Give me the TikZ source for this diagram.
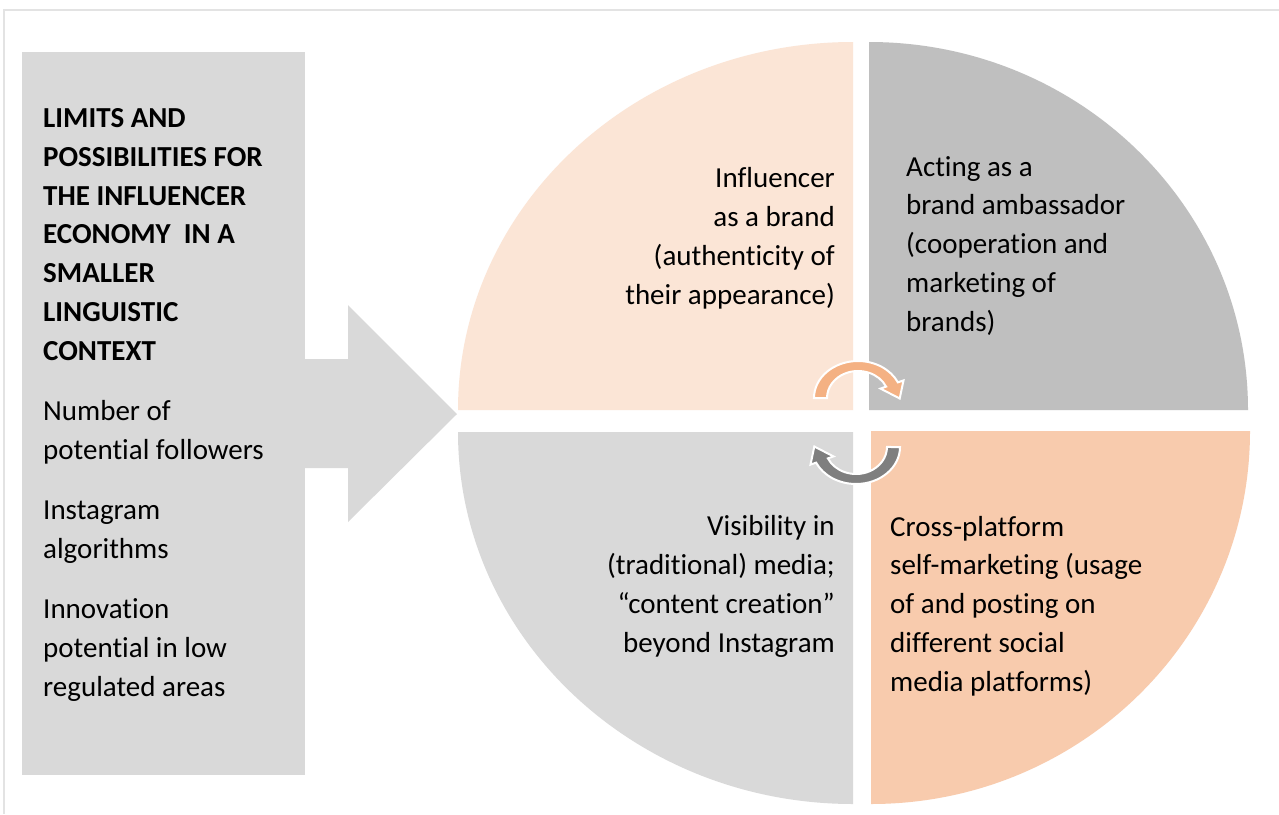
\documentclass[tikz,border=0pt]{standalone}
\usepackage{fontspec}
\setmainfont{Carlito}[Ligatures=NoCommon]
\definecolor{boxgray}{HTML}{D9D9D9}
\definecolor{peachlight}{HTML}{FBE5D6}
\definecolor{midgray}{HTML}{BFBFBF}
\definecolor{peach}{HTML}{F8CBAD}
\definecolor{orangearrow}{HTML}{F4B183}
\definecolor{darkarrow}{HTML}{7F7F7F}
\definecolor{framegray}{HTML}{E3E3E3}
\tikzset{
  bodytext/.style={font=\fontsize{29}{38.7}\selectfont, inner sep=0pt, text=black},
  cyclearrow/.style={draw=white, line width=2pt, line join=miter},
}
% curved arrow around a local origin: outer arc, arrow head, inner arc back
\newcommand{\cyclearrowpath}{%
  (-44,0) arc[start angle=180, end angle=335, x radius=44, y radius=37]
  -- (45.5,-17.6) -- (41.7,0.5) -- (22.5,-9.4) -- (28.1,-11.4)
  arc[start angle=335, end angle=180, x radius=31, y radius=27] -- cycle}
\begin{document}
\begin{tikzpicture}[x=1pt, y=-1pt]
\useasboundingbox (0,0) rectangle (1279,814);
\fill[white] (0,0) rectangle (1279,814);
% outer frame (top and left edges)
\draw[framegray, line width=2pt] (4,814) -- (4,10) -- (1279,10);

% left panel and the big arrow
\fill[boxgray] (300,359) -- (348,359) -- (348,305) -- (457,414) -- (348,522) -- (348,468) -- (300,468) -- cycle;
\node[fill=boxgray, minimum width=283pt, minimum height=723pt, inner sep=0pt, anchor=north west] (panel) at (22,52) {};

% multi-line texts are anchored at the baseline of their last line
\node[bodytext, anchor=base west, align=left, font=\fontsize{29}{38.7}\selectfont\bfseries] (title) at (43,360)
  {LIMITS AND\\POSSIBILITIES FOR\\THE INFLUENCER\\ECONOMY\ \ IN A\\SMALLER\\LINGUISTIC\\CONTEXT};
\node[bodytext, anchor=base west, align=left] (item1) at (43,459) {Number of\\potential followers};
\node[bodytext, anchor=base west, align=left] (item2) at (43,558) {Instagram\\algorithms};
\node[bodytext, anchor=base west, align=left] (item3) at (43,696) {Innovation\\potential in low\\regulated areas};

% four quarter-ellipse segments
\fill[peachlight] (853,410) -- (458,410) arc[start angle=180, end angle=270, x radius=395, y radius=368] -- cycle;
\fill[midgray] (869,410) -- (869,42) arc[start angle=270, end angle=360, x radius=379, y radius=368] -- cycle;
\fill[boxgray] (853,432) -- (853,804) arc[start angle=90, end angle=180, x radius=395, y radius=372] -- cycle;
\fill[peach] (871,431) -- (1250,431) arc[start angle=0, end angle=90, x radius=379, y radius=373] -- cycle;

% segment texts
\node[bodytext, anchor=base east, align=right] (tl) at (835,304)
  {Influencer\\as a brand\\(authenticity of\\their appearance)};
\node[bodytext, anchor=base west, align=left] (tr) at (906,331)
  {Acting as a\\brand ambassador\\(cooperation and\\marketing of\\brands)};
\node[bodytext, anchor=base east, align=right] (bl) at (835,652)
  {Visibility in\\(traditional) media;\\“content creation”\\beyond Instagram};
\node[bodytext, anchor=base west, align=left] (br) at (890,691)
  {Cross-platform\\self-marketing (usage\\of and posting on\\different social\\media platforms)};

% circular arrows in the middle
\begin{scope}[shift={(858,398)}]
  \filldraw[cyclearrow, fill=orangearrow] \cyclearrowpath;
\end{scope}
\begin{scope}[shift={(856,447)}, rotate=180]
  \filldraw[cyclearrow, fill=darkarrow] \cyclearrowpath;
\end{scope}
\end{tikzpicture}
\end{document}
